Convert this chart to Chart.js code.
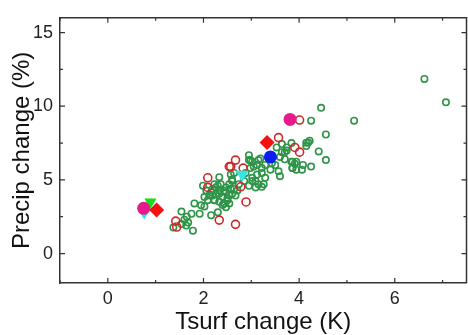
<!DOCTYPE html>
<html>
<head>
<meta charset="utf-8">
<script src="https://cdn.jsdelivr.net/npm/chart.js@4.4.1/dist/chart.umd.min.js"></script>
<style>
  html, body { margin: 0; padding: 0; background: #fff; overflow: hidden; }
  #wrap { width: 474px; height: 335px; }
</style>
</head>
<body>
<div id="wrap"><canvas id="chart" width="474" height="335"></canvas></div>
<script>
// axis ranges and tick labels
var xRange = [-1, 7.5];
var yRange = [-2, 16];
var xLabels = [0, 2, 4, 6];
var yLabels = [0, 5, 10, 15];

// small open circles (green) - surface temp change vs precip change
var greenX = [6.62, 7.07, 4.46, 5.15, 4.25, 4.56, 4.41, 4.56, 4.25, 4.06, 4.19, 4.15, 3.84, 3.91, 3.86, 3.70, 3.64, 3.74, 3.84,
  1.37, 1.54, 1.60, 1.65, 1.68, 1.64, 1.78, 1.81, 1.95, 1.92, 2.02, 2.16, 2.30, 1.54, 1.75,
  1.99, 2.06, 2.12, 2.19, 2.26, 2.33, 2.40, 2.47, 2.54, 2.60, 2.02, 2.09, 2.23, 2.33, 2.43, 2.50, 2.30, 2.36, 2.23, 2.47, 2.57, 2.67, 2.71, 2.33, 2.54, 2.47,
  2.88, 2.98, 3.02, 3.09, 3.15, 3.26, 3.29, 3.22, 3.12, 3.29, 3.40, 3.43, 3.50, 3.57, 3.60, 3.36, 2.95, 2.95, 2.85, 2.95, 3.09, 3.22, 2.60, 2.64, 3.02, 3.19, 2.74,
  3.53, 3.64, 3.70, 3.60, 3.74, 3.86, 3.94, 4.08, 4.15, 4.22, 3.86, 3.94,
  2.26, 2.33, 2.43, 2.50, 2.23, 2.40, 2.54, 2.64, 2.60, 3.02, 3.12, 3.22, 3.05, 2.98, 3.15, 2.57, 2.16, 2.19];
var greenY = [11.85, 10.26, 9.89, 9.02, 9.02, 8.08, 6.93, 6.34, 5.90, 5.69, 7.54, 7.30, 6.23, 6.10, 5.80, 6.40, 6.88, 7.20, 7.50,
  1.76, 2.85, 2.30, 2.50, 2.10, 1.90, 1.55, 3.40, 3.27, 2.70, 3.20, 2.60, 2.80, 2.00, 2.70,
  4.60, 4.27, 3.94, 4.38, 4.05, 4.27, 3.83, 4.16, 3.94, 4.05, 3.83, 3.62, 3.62, 3.51, 3.40, 3.62, 4.60, 4.71, 4.71, 4.49, 4.38, 3.94, 4.27, 5.18, 3.40, 3.14,
  5.47, 5.80, 5.14, 4.92, 4.71, 4.71, 5.14, 5.47, 6.01, 6.01, 5.69, 6.12, 6.01, 5.58, 5.25, 6.45, 6.34, 6.67, 4.92, 4.60, 4.49, 4.53, 5.03, 5.47, 6.23, 6.45, 4.71,
  7.20, 7.43, 6.88, 6.56, 6.99, 6.23, 6.23, 6.01, 7.52, 7.66, 5.80, 5.69,
  4.49, 4.05, 4.27, 3.73, 3.62, 3.29, 4.71, 4.38, 4.92, 4.92, 5.36, 5.80, 5.90, 6.34, 6.34, 5.36, 4.16, 3.94];

// small open circles (red)
var redX = [3.57, 4.01, 3.91, 4.01, 2.54, 2.67, 2.83, 2.09, 2.09, 2.78, 2.89, 2.33, 2.67, 1.42, 1.44, 2.57];
var redY = [7.87, 9.06, 7.20, 6.88, 5.90, 6.34, 5.80, 5.14, 4.49, 4.53, 3.50, 2.27, 1.98, 2.20, 1.80, 5.90];

// large filled markers
var magentaX = [0.75, 3.81];
var magentaY = [3.07, 9.10];
var diamondX = [1.02, 3.33];
var diamondY = [2.96, 7.54];
var blueX = [3.40];
var blueY = [6.56];
var cyanX = [0.76, 2.81];
var cyanY = [2.57, 5.36];
var limeX = [0.89];
var limeY = [3.50];

function pts(xs, ys) {
  return xs.map(function (x, i) { return { x: x, y: ys[i] }; });
}

// inward ticks on all four sides plus top/right frame lines
var framePlugin = {
  id: 'frame',
  afterDraw: function (chart) {
    var c = chart.ctx, a = chart.chartArea;
    var xs = chart.scales.x, ys = chart.scales.y;
    c.save();
    c.strokeStyle = '#333';
    c.lineWidth = 1.5;
    c.beginPath();
    c.moveTo(a.left, a.top); c.lineTo(a.right, a.top); c.lineTo(a.right, a.bottom);
    c.stroke();
    c.lineWidth = 1.2;
    c.beginPath();
    for (var v = Math.ceil(xRange[0]); v <= xRange[1]; v += 1) {
      var px = xs.getPixelForValue(v);
      var len = (v % 2 === 0) ? 5 : 3;
      c.moveTo(px, a.bottom); c.lineTo(px, a.bottom - len);
      c.moveTo(px, a.top); c.lineTo(px, a.top + len);
    }
    for (var w = 0; w <= yRange[1]; w += 2.5) {
      var py = ys.getPixelForValue(w);
      var l2 = (w % 5 === 0) ? 5 : 3;
      c.moveTo(a.left, py); c.lineTo(a.left + l2, py);
      c.moveTo(a.right, py); c.lineTo(a.right - l2, py);
    }
    c.stroke();
    c.restore();
  }
};

var ctx = document.getElementById('chart');

var chartGraph = new Chart(ctx, {
  type: 'scatter',
  data: {
    datasets: [
      { data: pts(magentaX, magentaY), pointStyle: 'circle', pointRadius: 6.5, backgroundColor: '#e8198b', borderWidth: 0 },
      { data: pts(diamondX, diamondY), pointStyle: 'rectRot', pointRadius: 7.5, backgroundColor: '#f21212', borderWidth: 0 },
      { data: pts(blueX, blueY), pointStyle: 'circle', pointRadius: 6.5, backgroundColor: '#0b1df0', borderWidth: 0 },
      { data: pts(cyanX, cyanY), pointStyle: 'triangle', rotation: 180, pointRadius: [4, 7.5], backgroundColor: '#33e6e6', borderWidth: 0 },
      { data: pts(limeX, limeY), pointStyle: 'triangle', rotation: 180, pointRadius: 7, backgroundColor: '#12e012', borderWidth: 0 },
      { data: pts(redX, redY), pointStyle: 'circle', pointRadius: 4, backgroundColor: 'transparent', borderColor: '#cc2a2a', borderWidth: 1.6 },
      { data: pts(greenX, greenY), pointStyle: 'circle', pointRadius: 3.2, backgroundColor: 'transparent', borderColor: '#2e9448', borderWidth: 1.6 }
    ]
  },
  options: {
    responsive: false,
    animation: false,
    layout: { padding: { top: 8, right: 2, left: 0, bottom: 0 } },
    plugins: {
      legend: { display: false },
      tooltip: { enabled: false }
    },
    scales: {
      x: {
        type: 'linear',
        min: xRange[0],
        max: xRange[1],
        grid: { display: false, drawTicks: false },
        border: { display: true, color: '#333', width: 1.5 },
        ticks: {
          stepSize: 1,
          includeBounds: false,
          autoSkip: false,
          maxRotation: 0,
          padding: 5,
          color: '#222',
          font: { family: 'Liberation Sans', size: 18 },
          callback: function (v) { return xLabels.indexOf(v) >= 0 ? String(v) : ''; }
        },
        title: {
          display: true,
          text: 'Tsurf change (K)',
          color: '#111',
          padding: { top: 0, bottom: -2 },
          font: { family: 'Liberation Sans', size: 24 }
        },
        afterFit: function (s) { s.height = 52; }
      },
      y: {
        type: 'linear',
        min: yRange[0],
        max: yRange[1],
        grid: { display: false, drawTicks: false },
        border: { display: true, color: '#333', width: 1.5 },
        ticks: {
          stepSize: 2.5,
          includeBounds: false,
          autoSkip: false,
          padding: 7,
          color: '#222',
          font: { family: 'Liberation Sans', size: 18 },
          callback: function (v) { return yLabels.indexOf(v) >= 0 ? String(v) : ''; }
        },
        title: {
          display: true,
          text: 'Precip change (%)',
          color: '#111',
          padding: { top: 8, bottom: 0 },
          font: { family: 'Liberation Sans', size: 24 }
        },
        afterFit: function (s) { s.width = 60; }
      }
    }
  },
  plugins: [framePlugin]
});
</script>
</body>
</html>
